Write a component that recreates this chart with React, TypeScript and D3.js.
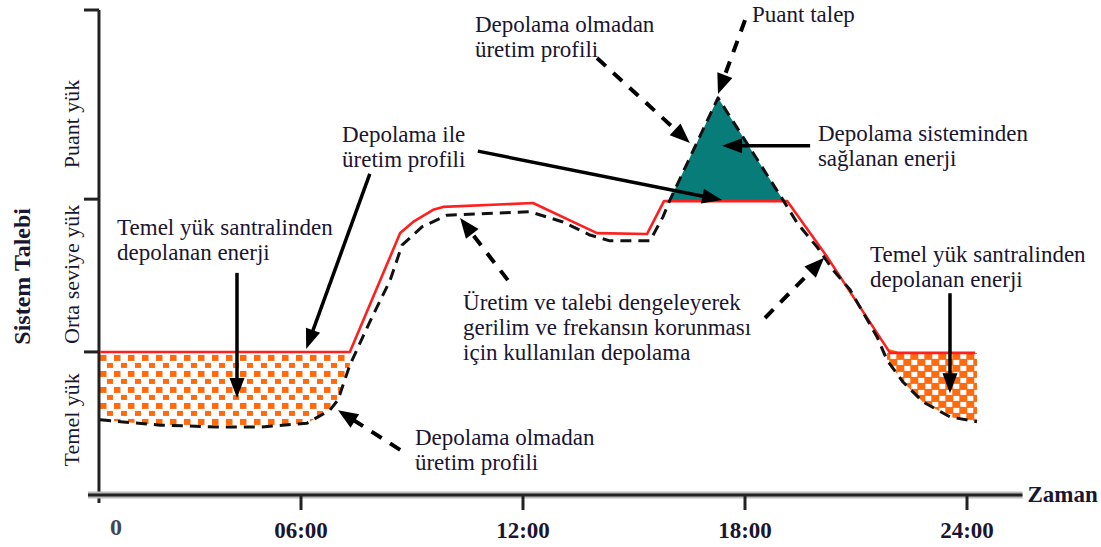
import React from 'react';
import * as d3 from 'd3';

const W = 1101;
const H = 547;

// ---- data (x: hour of day, y: system load index 0..100) ----
const xTickHours = [6, 12, 18, 24];
const xTickLabels = ['06:00', '12:00', '18:00', '24:00'];
const originLabel = '0';
const originHour = 0.54;
const axisEndHour = 25.5;

const yBoundaryLoads = [29.5, 61.0, 100];
const yBandLabels = ['Temel yük', 'Orta seviye yük', 'Puant yük'];
const yBandCenters = [15.5, 45.5, 76.5];
const yTitle = 'Sistem Talebi';
const xTitle = 'Zaman';

// production profile with storage (red)
const withStorageHours = [0.57, 7.32, 8.68, 9.03, 9.57, 9.84, 12.27, 14.0, 15.35, 15.81, 19.14, 20.22, 21.92, 24.22];
const withStorageLoad = [29.5, 29.5, 54.0, 56.3, 58.8, 59.4, 60.2, 54.0, 53.8, 60.6, 60.6, 49.1, 29.3, 29.3];

// production profile without storage (dashed)
const noStorageHours = [0.57, 2.19, 3.89, 4.89, 6.16, 6.78, 7.0, 7.32, 7.86, 8.41, 8.73, 9.27, 9.95, 12.19, 13.08, 13.81, 14.35, 15.43, 15.78, 15.97, 17.27, 19.03, 19.41, 19.95, 20.38, 20.84, 21.57, 21.84, 22.27, 22.81, 23.54, 24.27];
const noStorageLoad = [15.5, 14.4, 14.0, 14.0, 14.8, 17.5, 19.6, 26.8, 35.7, 44.3, 51.5, 55.3, 57.7, 58.4, 56.3, 53.6, 52.4, 52.4, 57.3, 60.8, 81.9, 60.8, 56.1, 51.1, 46.4, 42.3, 32.6, 27.8, 23.3, 19.2, 16.1, 15.1];

// fill ranges (hours)
const chargeLeftRange = [0.57, 7.32];
const chargeRightRange = [21.84, 24.27];
const peakRange = [15.97, 19.03];

// annotations (data coordinates)
const solidArrows = [
  { from: [4.27, 45.8], to: [4.27, 20.0] },
  { from: [7.86, 66.2], to: [6.14, 30.1] },
  { from: [10.78, 70.9], to: [17.38, 60.8] },
  { from: [19.76, 72.0], to: [17.38, 72.0] },
  { from: [23.54, 41.6], to: [23.54, 21.0] },
];
const dashedArrows = [
  { from: [14.0, 90.1], to: [16.51, 72.6] },
  { from: [18.0, 97.9], to: [17.27, 82.7] },
  { from: [11.59, 44.3], to: [10.3, 57.1] },
  { from: [18.54, 36.5], to: [20.14, 48.9] },
  { from: [8.68, 9.3], to: [7.0, 17.5] },
];
const notes = [
  { lines: ['Depolama olmadan', 'üretim profili'], at: [10.7, 95.5] },
  { lines: ['Puant talep'], at: [18.19, 97.5] },
  { lines: ['Depolama ile', 'üretim profili'], at: [7.11, 72.8] },
  { lines: ['Depolama sisteminden', 'sağlanan enerji'], at: [19.97, 73.0] },
  { lines: ['Temel yük santralinden', 'depolanan enerji'], at: [1.03, 53.6] },
  { lines: ['Temel yük santralinden', 'depolanan enerji'], at: [21.38, 48.0] },
  { lines: ['Üretim ve talebi dengeleyerek', 'gerilim ve frekansın korunması', 'için kullanılan depolama'], at: [10.38, 38.1] },
  { lines: ['Depolama olmadan', 'üretim profili'], at: [9.08, 10.3] },
];

const SERIF = '"Liberation Serif", "Times New Roman", Times, serif';
const TEXT = '#1a1530';
const RED = '#ff1f1f';
const TEAL = '#087c79';
const ORANGE = '#ff6a0d';

function redAt(h: number) {
  if (h <= withStorageHours[0]) return withStorageLoad[0];
  const n = withStorageHours.length;
  if (h >= withStorageHours[n - 1]) return withStorageLoad[n - 1];
  for (let i = 0; i < n - 1; i++) {
    const a = withStorageHours[i], b = withStorageHours[i + 1];
    if (h >= a && h <= b) {
      const t = (h - a) / (b - a);
      return withStorageLoad[i] + t * (withStorageLoad[i + 1] - withStorageLoad[i]);
    }
  }
  return withStorageLoad[n - 1];
}

function headPoints(x1: number, y1: number, x2: number, y2: number, len: number, wid: number) {
  const dx = x2 - x1, dy = y2 - y1;
  const L = Math.hypot(dx, dy);
  const ux = dx / L, uy = dy / L;
  const bx = x2 - ux * len, by = y2 - uy * len;
  const px = -uy, py = ux;
  return {
    pts: `${x2},${y2} ${bx + px * wid / 2},${by + py * wid / 2} ${bx - px * wid / 2},${by - py * wid / 2}`,
    bx: x2 - ux * (len - 3),
    by: y2 - uy * (len - 3),
  };
}

export default function App() {
  const x = d3.scaleLinear().domain([0, 24]).range([79, 967]);
  const y = d3.scaleLinear().domain([0, 100]).range([495, 10]);

  const redPts = withStorageHours.map((h, i) => [h, withStorageLoad[i]] as [number, number]);
  const dashPts = noStorageHours.map((h, i) => [h, noStorageLoad[i]] as [number, number]);

  const line = d3.line<[number, number]>().x(d => x(d[0])).y(d => y(d[1]));
  const area = d3.area<[number, number]>()
    .x(d => x(d[0]))
    .y0(d => y(d[1]))
    .y1(d => y(redAt(d[0])));

  const inRange = (r: number[]) => dashPts.filter(d => d[0] >= r[0] - 1e-6 && d[0] <= r[1] + 1e-6);

  const x0 = x(originHour);
  const yAxisBottom = y(0);

  return (
    <svg width={W} height={H} style={{ position: 'absolute', left: 0, top: 0, display: 'block', background: '#fff' }}>
      <defs>
        <pattern id="dots" width="14" height="16" patternUnits="userSpaceOnUse" x={x0} y={y(29.5)}>
          <rect x="1" y="3" width="6.5" height="6" fill={ORANGE} />
          <rect x="8" y="11" width="6.5" height="6" fill={ORANGE} />
        </pattern>
        <pattern id="checks" width="14" height="12" patternUnits="userSpaceOnUse" x={x(21.9)} y={y(29.3)}>
          <rect x="0" y="0" width="14" height="12" fill={ORANGE} />
          <rect x="1" y="1" width="6" height="5" fill="#fff" />
          <rect x="8" y="7" width="6" height="5" fill="#fff" />
        </pattern>
      </defs>

      {/* fills */}
      <path d={area(inRange(chargeLeftRange)) || ''} fill="url(#dots)" />
      <path d={area(inRange(chargeRightRange)) || ''} fill="url(#checks)" />
      <path d={area(inRange(peakRange)) || ''} fill={TEAL} />

      {/* axes */}
      <line x1={x0} x2={x0} y1={y(100)} y2={yAxisBottom + 8} stroke="#222" strokeWidth={3} />
      <line x1={x0 - 11} x2={x(axisEndHour)} y1={yAxisBottom} y2={yAxisBottom} stroke="#bbb" strokeWidth={7} />
      <line x1={x0 - 11} x2={x(axisEndHour)} y1={yAxisBottom} y2={yAxisBottom} stroke="#222" strokeWidth={3} />
      {yBoundaryLoads.map((v, i) => (
        <line key={'yt' + i} x1={x0 - 15} x2={x0} y1={y(v)} y2={y(v)} stroke="#222" strokeWidth={3} />
      ))}
      {xTickHours.map((h, i) => (
        <line key={'xt' + i} x1={x(h)} x2={x(h)} y1={yAxisBottom} y2={yAxisBottom + 15} stroke="#222" strokeWidth={3} />
      ))}
      {xTickHours.map((h, i) => (
        <text key={'xl' + i} x={x(h)} y={538} textAnchor="middle" fontFamily={SERIF} fontWeight="bold" fontSize={23} fill={TEXT}>
          {xTickLabels[i]}
        </text>
      ))}
      <text x={x0 + 17} y={535} textAnchor="middle" fontFamily={SERIF} fontWeight="bold" fontSize={24} fill="#445">
        {originLabel}
      </text>
      <text x={x(axisEndHour) + 5} y={502} fontFamily={SERIF} fontWeight="bold" fontSize={23} fill={TEXT}>
        {xTitle}
      </text>
      {yBandLabels.map((t, i) => (
        <text key={'yb' + i} transform={`translate(${x0 - 20},${y(yBandCenters[i])}) rotate(-90)`} textAnchor="middle"
          fontFamily={SERIF} fontSize={22} fill={TEXT}>
          {t}
        </text>
      ))}
      <text transform={`translate(${x0 - 69},${y(45.5) + 2}) rotate(-90)`} textAnchor="middle" fontFamily={SERIF}
        fontWeight="bold" fontSize={24} fill={TEXT}>
        {yTitle}
      </text>

      {/* profiles */}
      <path d={line(redPts) || ''} fill="none" stroke={RED} strokeWidth={2.6} strokeLinejoin="round" />
      <path d={line(dashPts) || ''} fill="none" stroke="#111" strokeWidth={3} strokeDasharray="11 7" strokeLinejoin="round" />

      {/* arrows */}
      {solidArrows.map((a, i) => {
        const x1 = x(a.from[0]), y1 = y(a.from[1]), x2 = x(a.to[0]), y2 = y(a.to[1]);
        const hp = headPoints(x1, y1, x2, y2, 20, 15);
        return (
          <g key={'sa' + i}>
            <line x1={x1} y1={y1} x2={hp.bx} y2={hp.by} stroke="#000" strokeWidth={3.5} />
            <polygon points={hp.pts} fill="#000" />
          </g>
        );
      })}
      {dashedArrows.map((a, i) => {
        const x1 = x(a.from[0]), y1 = y(a.from[1]), x2 = x(a.to[0]), y2 = y(a.to[1]);
        const hp = headPoints(x1, y1, x2, y2, 20, 16);
        return (
          <g key={'da' + i}>
            <line x1={x1} y1={y1} x2={hp.bx} y2={hp.by} stroke="#000" strokeWidth={4} strokeDasharray="12 10" />
            <polygon points={hp.pts} fill="#000" />
          </g>
        );
      })}

      {/* annotation text */}
      {notes.map((n, i) => (
        <text key={'n' + i} x={x(n.at[0])} y={y(n.at[1])} fontFamily={SERIF} fontSize={23} fill={TEXT}>
          {n.lines.map((l, j) => (
            <tspan key={j} x={x(n.at[0])} dy={j === 0 ? 0 : 25}>{l}</tspan>
          ))}
        </text>
      ))}
    </svg>
  );
}
